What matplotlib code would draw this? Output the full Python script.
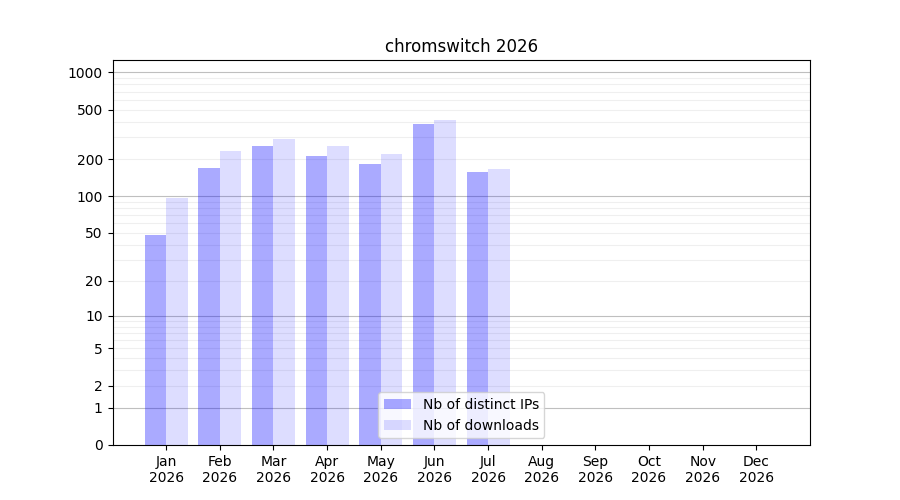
import numpy as np
import matplotlib
matplotlib.use("Agg")
import matplotlib.pyplot as plt

# Monthly stats
months = ["Jan", "Feb", "Mar", "Apr", "May", "Jun", "Jul", "Aug", "Sep", "Oct", "Nov", "Dec"]
year = "2026"
distinct_ips = [48, 170, 256, 212, 183, 385, 157]
downloads = [97, 234, 291, 256, 220, 415, 166]
y_ticks = [0, 1, 2, 5, 10, 20, 50, 100, 200, 500, 1000]


def fwd(v):
    return np.log10(np.clip(np.asarray(v, dtype=float), -0.999, None) + 1)


def inv(v):
    return 10 ** np.asarray(v, dtype=float) - 1


fig, ax = plt.subplots(figsize=(9, 5), dpi=100)
ax.set_yscale("function", functions=(fwd, inv))

x = np.arange(1, len(months) + 1)
n = len(distinct_ips)
ax.bar(x[:n] - 0.2, distinct_ips, width=0.4, color="blue", alpha=1 / 3, label="Nb of distinct IPs")
ax.bar(x[:n] + 0.2, downloads, width=0.4, color="blue", alpha=0.133, label="Nb of downloads")

ax.set_xlim(0, 13)
ax.set_ylim(0, 1260)
ax.set_xticks(x)
ax.set_xticklabels([f"{m}\n{year}" for m in months])
ax.set_yticks(y_ticks)
ax.set_yticklabels([str(t) for t in y_ticks])
ax.minorticks_off()

# grid: darker lines on the decades, light lines in between
for dec in [1, 10, 100, 1000]:
    ax.axhline(dec, color="0.5", alpha=0.5, lw=0.8, zorder=0.5)
    for k in range(2, 10):
        if dec * k < 1260:
            ax.axhline(dec * k, color="0.5", alpha=0.12, lw=0.8, zorder=0.5)

ax.set_title("chromswitch 2026")
ax.legend(loc="lower center")

fig.savefig("out.png")
